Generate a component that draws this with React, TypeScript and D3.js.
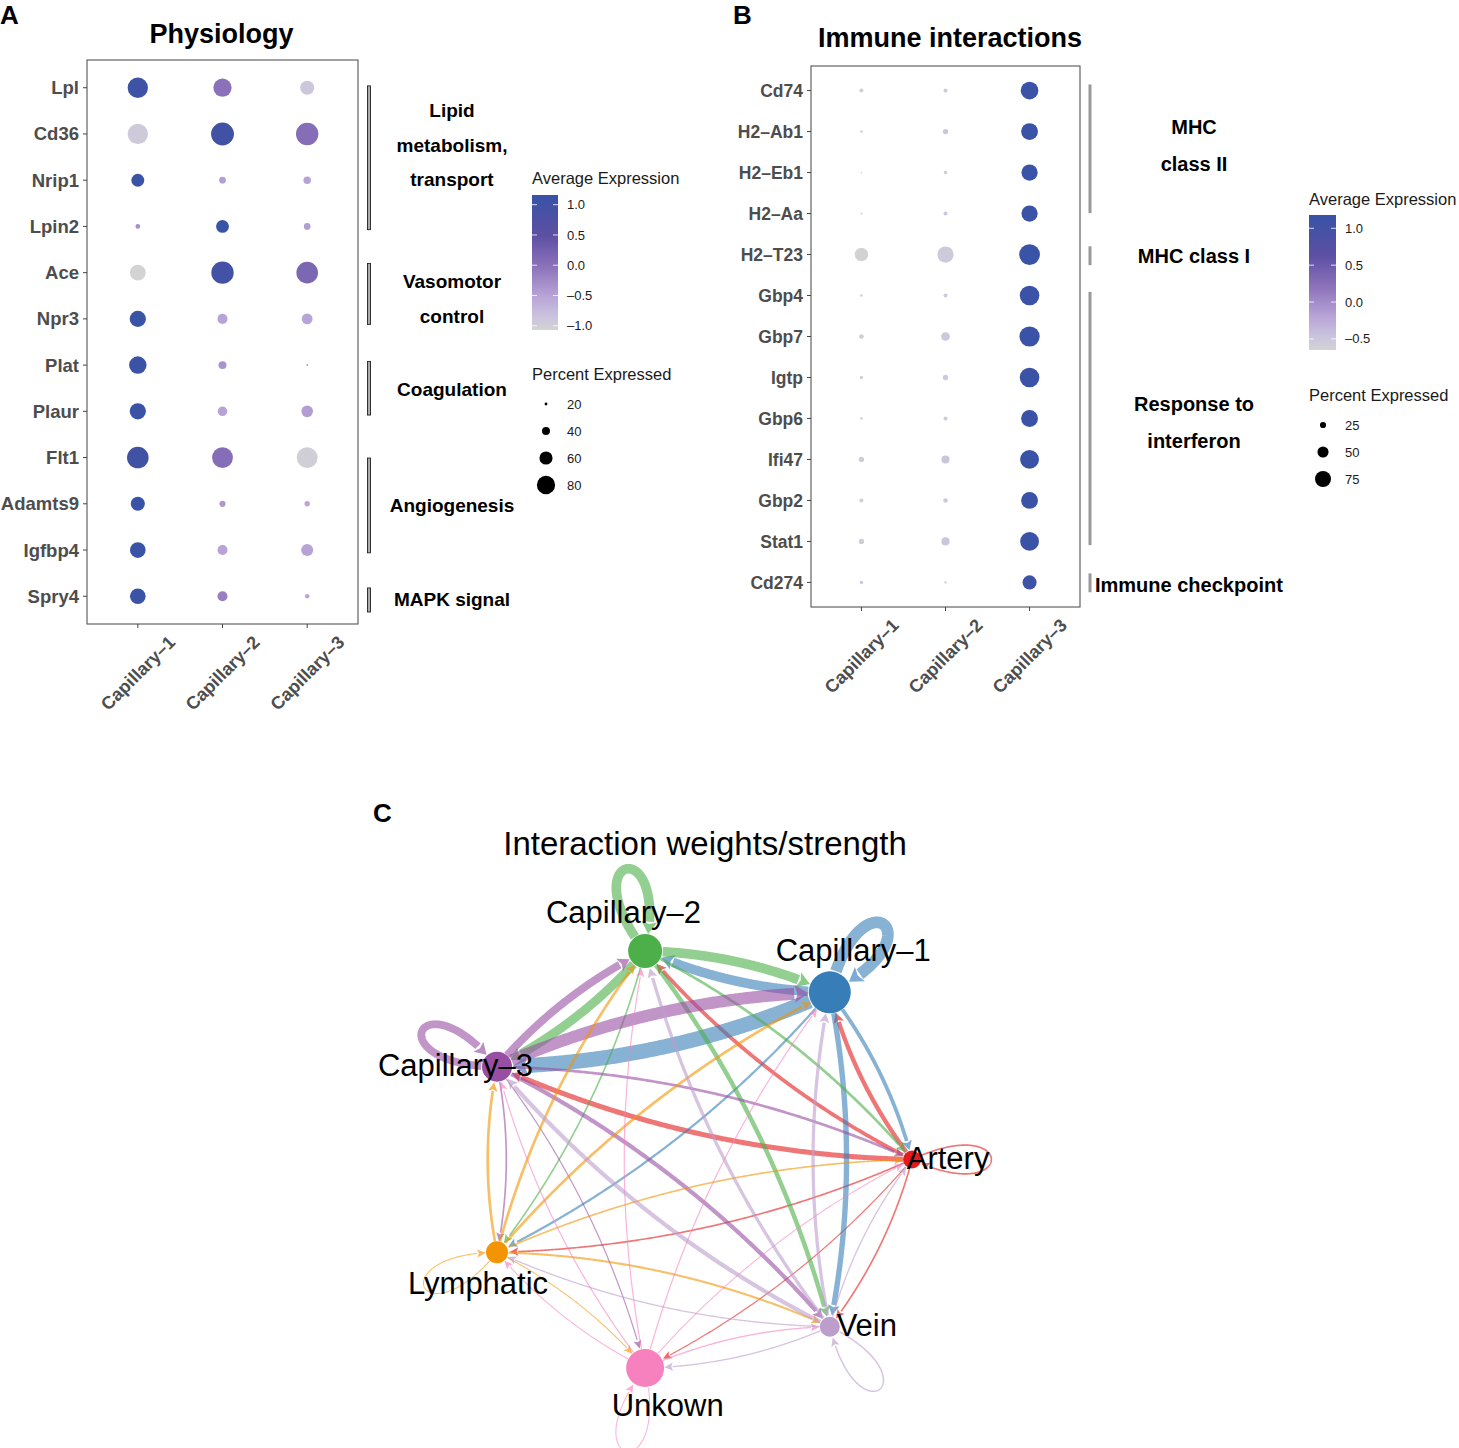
import React from 'react';
import * as d3 from 'd3';

// ---------------- DATA ----------------
const clusters = ['Capillary–1', 'Capillary–2', 'Capillary–3'];

const genesA = ['Lpl', 'Cd36', 'Nrip1', 'Lpin2', 'Ace', 'Npr3', 'Plat', 'Plaur', 'Flt1', 'Adamts9', 'Igfbp4', 'Spry4'];
const pctA = [
  [88, 80, 64], [88, 98, 96], [59, 35, 38], [27, 59, 35], [70, 96, 93], [72, 48, 51],
  [77, 40, 17], [72, 46, 54], [93, 90, 90], [64, 33, 30], [70, 48, 56], [70, 48, 27],
];
const exprA = [
  [1.05, 0.0, -0.9], [-0.95, 1.0, 0.05], [1.15, -0.45, -0.5], [-0.3, 1.15, -0.45],
  [-1.07, 0.95, 0.15], [1.15, -0.5, -0.5], [1.1, -0.35, -0.55], [1.1, -0.5, -0.45],
  [1.0, 0.05, -1.0], [1.15, -0.4, -0.55], [1.15, -0.5, -0.5], [1.1, -0.15, -0.55],
];
const groupsA = [
  { lines: ['Lipid', 'metabolism,', 'transport'], start: -0.04, end: 3.07, mid: 1.24 },
  { lines: ['Vasomotor', 'control'], start: 3.8, end: 5.12, mid: 4.57 },
  { lines: ['Coagulation'], start: 5.92, end: 7.08, mid: 6.52 },
  { lines: ['Angiogenesis'], start: 8.01, end: 10.06, mid: 9.03 },
  { lines: ['MAPK signal'], start: 10.82, end: 11.34, mid: 11.06 },
];
const colorTicksA = [1.0, 0.5, 0.0, -0.5, -1.0];
const colorRangeA = [-1.07, 1.16];
const sizeTicksA = [20, 40, 60, 80];

const genesB = ['Cd74', 'H2–Ab1', 'H2–Eb1', 'H2–Aa', 'H2–T23', 'Gbp4', 'Gbp7', 'Igtp', 'Gbp6', 'Ifi47', 'Gbp2', 'Stat1', 'Cd274'];
const pctB = [
  [14, 14, 83], [7, 21, 79], [2, 11, 76], [4, 14, 76], [62, 76, 99], [7, 14, 93], [17, 38, 96],
  [11, 21, 93], [7, 14, 79], [21, 35, 89], [14, 17, 79], [21, 35, 89], [11, 6, 65],
];
const exprB = [
  [-0.6, -0.55, 1.15], [-0.6, -0.5, 1.15], [-0.6, -0.55, 1.15], [-0.6, -0.5, 1.15],
  [-0.63, -0.55, 1.17], [-0.6, -0.55, 1.15], [-0.58, -0.52, 1.15], [-0.6, -0.52, 1.15],
  [-0.6, -0.55, 1.15], [-0.58, -0.5, 1.15], [-0.6, -0.52, 1.15], [-0.58, -0.5, 1.15],
  [-0.5, -0.6, 1.12],
];
const groupsB = [
  { lines: ['MHC', 'class II'], start: -0.15, end: 2.99, mid: 1.33, left: false },
  { lines: ['MHC class I'], start: 3.8, end: 4.26, mid: 4.04, left: false },
  { lines: ['Response to', 'interferon'], start: 4.91, end: 11.09, mid: 8.09, left: false },
  { lines: ['Immune checkpoint'], start: 11.78, end: 12.24, mid: 12.07, left: true },
];
const colorTicksB = [1.0, 0.5, 0.0, -0.5];
const colorRangeB = [-0.65, 1.18];
const sizeTicksB = [25, 50, 75];

const cellTypes = ['Artery', 'Capillary–1', 'Capillary–2', 'Capillary–3', 'Lymphatic', 'Unkown', 'Vein'];
const cellColors = ['#E41A1C', '#377EB8', '#4DAF4A', '#984EA3', '#F29403', '#F781BF', '#BC9DCC'];
const cellSize = [9, 21, 17, 15, 11, 19, 10];
// rows: source, cols: target (same order as cellTypes)
const weights = [
  [0.11, 0.29, 0.25, 0.34, 0.11, 0.08, 0.11],
  [0.25, 0.78, 0.64, 1.0, 0.15, 0, 0.36],
  [0.18, 0.64, 0.64, 0.6, 0.11, 0, 0.3],
  [0.18, 0.8, 0.52, 0.52, 0.11, 0.08, 0.28],
  [0.11, 0.18, 0.18, 0.18, 0.07, 0.07, 0.14],
  [0.07, 0.08, 0.08, 0.08, 0.07, 0.07, 0.09],
  [0.09, 0.22, 0.22, 0.28, 0.09, 0.09, 0.1],
];

// ---------------- HELPERS ----------------
const FONT = 'Liberation Sans, Arial, Helvetica, sans-serif';
const gradStops = ['#d3d3d3', '#cac3de', '#b8a4d6', '#9076bc', '#5d4fa3', '#3853a6'];
const gradFrac = [0, 0.1, 0.25, 0.45, 0.7, 1];
function makeColor(lo: number, hi: number) {
  return d3.scaleLinear<string>()
    .domain(gradFrac.map(f => lo + f * (hi - lo)))
    .range(gradStops)
    .interpolate(d3.interpolateRgb)
    .clamp(true);
}

type Box = { x0: number; x1: number; y0: number; y1: number };

function DotPanel(props: {
  id: string; genes: string[]; pct: number[][]; expr: number[][]; box: Box;
  rScale: d3.ScaleLinear<number, number>; colorRange: number[]; title: string; titleY: number; titleX: number;
  labelSize: number;
}) {
  const { genes, pct, expr, box, rScale, colorRange, title, titleY, titleX, labelSize } = props;
  const x = d3.scalePoint<string>().domain(clusters).range([box.x0, box.x1]).padding(0.6);
  const y = d3.scalePoint<string>().domain(genes).range([box.y0, box.y1]).padding(0.6);
  const color = makeColor(colorRange[0], colorRange[1]);
  return (
    <g>
      <text x={titleX} y={titleY} textAnchor="middle" fontFamily={FONT} fontWeight="bold" fontSize={27} fill="#000">{title}</text>
      <rect x={box.x0} y={box.y0} width={box.x1 - box.x0} height={box.y1 - box.y0} fill="#fff" stroke="#555" strokeWidth={1.1} />
      {genes.map((g, i) => (
        <g key={g}>
          <line x1={box.x0 - 4} x2={box.x0} y1={y(g)} y2={y(g)} stroke="#444" strokeWidth={1} />
          <text x={box.x0 - 8} y={y(g)} dy="0.35em" textAnchor="end" fontFamily={FONT} fontWeight="bold" fontSize={labelSize} fill="#4d4d4d">{g}</text>
          {clusters.map((c, j) => (
            <circle key={c} cx={x(c)} cy={y(g)} r={Math.max(0.4, rScale(pct[i][j]))} fill={color(expr[i][j])} />
          ))}
        </g>
      ))}
      {clusters.map(c => (
        <g key={c}>
          <line x1={x(c)} x2={x(c)} y1={box.y1} y2={box.y1 + 4} stroke="#444" strokeWidth={1} />
          <text transform={`translate(${x(c)},${box.y1 + 49}) rotate(-45)`} textAnchor="middle" dy="0.35em"
            fontFamily={FONT} fontWeight="bold" fontSize={18} fill="#4d4d4d">{c}</text>
        </g>
      ))}
    </g>
  );
}

function Legend(props: {
  id: string; x: number; titleY: number; bar: { y0: number; y1: number; w: number }; colorRange: number[];
  ticks: number[]; sizeTitleY: number; sizeTicks: number[]; sizeY0: number; sizeStep: number;
  rScale: d3.ScaleLinear<number, number>;
}) {
  const { id, x, titleY, bar, colorRange, ticks, sizeTitleY, sizeTicks, sizeY0, sizeStep, rScale } = props;
  const color = makeColor(colorRange[0], colorRange[1]);
  const yb = d3.scaleLinear().domain(colorRange).range([bar.y1, bar.y0]);
  const stops = d3.range(0, 1.0001, 0.05);
  const dotX = x + 14;
  return (
    <g fontFamily={FONT}>
      <defs>
        <linearGradient id={id} x1="0" y1="1" x2="0" y2="0">
          {stops.map(s => (
            <stop key={s} offset={s} stopColor={color(colorRange[0] + s * (colorRange[1] - colorRange[0]))} />
          ))}
        </linearGradient>
      </defs>
      <text x={x} y={titleY} fontSize={16.5} fill="#1a1a1a">Average Expression</text>
      <rect x={x} y={bar.y0} width={bar.w} height={bar.y1 - bar.y0} fill={`url(#${id})`} />
      {ticks.map(t => (
        <g key={t}>
          <line x1={x} x2={x + 5} y1={yb(t)} y2={yb(t)} stroke="#fff" strokeWidth={1} strokeOpacity={0.8} />
          <line x1={x + bar.w - 5} x2={x + bar.w} y1={yb(t)} y2={yb(t)} stroke="#fff" strokeWidth={1} strokeOpacity={0.8} />
          <text x={x + bar.w + 9} y={yb(t)} dy="0.35em" fontSize={13} fill="#1a1a1a">{t < 0 ? '–' + Math.abs(t).toFixed(1) : t.toFixed(1)}</text>
        </g>
      ))}
      <text x={x} y={sizeTitleY} fontSize={16.5} fill="#1a1a1a">Percent Expressed</text>
      {sizeTicks.map((s, i) => (
        <g key={s}>
          <circle cx={dotX} cy={sizeY0 + i * sizeStep} r={rScale(s)} fill="#000" />
          <text x={x + bar.w + 9} y={sizeY0 + i * sizeStep} dy="0.35em" fontSize={13} fill="#1a1a1a">{s}</text>
        </g>
      ))}
    </g>
  );
}

type Pt = [number, number];
const dist = (a: Pt, b: Pt) => Math.hypot(a[0] - b[0], a[1] - b[1]);

function trimmed(pts: Pt[], s: Pt, rs: number, t: Pt, rt: number, w: number) {
  let i0 = pts.findIndex(p => dist(p, s) >= rs);
  if (i0 < 0) i0 = 0;
  let i1 = pts.length - 1;
  while (i1 > i0 && dist(pts[i1], t) < rt) i1--;
  const tip = pts[i1];
  const aLen = 8 + 0.45 * w;
  const hw = 3.5 + 0.45 * w;
  let k = i1;
  while (k > i0 && dist(pts[k], tip) < aLen) k--;
  const base = pts[k];
  const dx = tip[0] - base[0], dy = tip[1] - base[1];
  const L = Math.hypot(dx, dy) || 1;
  const ux = dx / L, uy = dy / L;
  const line = pts.slice(i0, k + 1);
  line.push([base[0] + ux * 0.5, base[1] + uy * 0.5]);
  const b2: Pt = [tip[0] - ux * aLen, tip[1] - uy * aLen];
  const notch: Pt = [tip[0] - ux * aLen * 0.8, tip[1] - uy * aLen * 0.8];
  const arrow: Pt[] = [tip, [b2[0] - uy * hw, b2[1] + ux * hw], notch, [b2[0] + uy * hw, b2[1] - ux * hw]];
  return { line, arrow };
}

function Network() {
  const n = cellTypes.length;
  const layout = cellTypes.map((_, i) => [Math.cos((2 * Math.PI * i) / n), Math.sin((2 * Math.PI * i) / n)]);
  const xs = d3.scaleLinear().domain(d3.extent(layout, d => d[0]) as [number, number]).range([497, 912]);
  const ys = d3.scaleLinear().domain(d3.extent(layout, d => d[1]) as [number, number]).range([1368, 951]);
  const rScale = d3.scaleLinear().domain([0, d3.max(cellSize) as number]).range([0, 21]);
  const maxW = d3.max(weights.flat()) as number;
  const wScale = d3.scaleLinear().domain([0, maxW]).range([0, 15]);
  const nodes = cellTypes.map((name, i) => ({
    name, color: cellColors[i], x: xs(layout[i][0]), y: ys(layout[i][1]), r: rScale(cellSize[i]),
    ang: -(2 * Math.PI * i) / n,
    labDeg: -(i / (n - 1)) * 2 * Math.PI,
  }));
  const lineGen = d3.line<Pt>().curve(d3.curveLinear);
  const edges: { key: string; color: string; w: number; line: Pt[]; arrow: Pt[] }[] = [];
  const N = 240;
  weights.forEach((row, i) => {
    row.forEach((wt, j) => {
      if (wt <= 0) return;
      const s = nodes[i], t = nodes[j];
      const w = wScale(wt);
      const S: Pt = [s.x, s.y], T: Pt = [t.x, t.y];
      const pts: Pt[] = [];
      if (i === j) {
        const L = 74 + 0.6 * s.r;
        const a = 0.44;
        const D = L / (0.75 * Math.cos(a));
        const P1: Pt = [s.x + D * Math.cos(s.ang - a), s.y + D * Math.sin(s.ang - a)];
        const P2: Pt = [s.x + D * Math.cos(s.ang + a), s.y + D * Math.sin(s.ang + a)];
        for (let k = 0; k <= N; k++) {
          const tt = k / N, u = 1 - tt;
          pts.push([
            u * u * u * s.x + 3 * u * u * tt * P1[0] + 3 * u * tt * tt * P2[0] + tt * tt * tt * s.x,
            u * u * u * s.y + 3 * u * u * tt * P1[1] + 3 * u * tt * tt * P2[1] + tt * tt * tt * s.y,
          ]);
        }
      } else {
        const curved = 0.2;
        const dx = t.x - s.x, dy = t.y - s.y;
        const C: Pt = [(s.x + t.x) / 2 + (curved / 2) * dy, (s.y + t.y) / 2 - (curved / 2) * dx];
        for (let k = 0; k <= N; k++) {
          const tt = k / N, u = 1 - tt;
          pts.push([
            u * u * s.x + 2 * u * tt * C[0] + tt * tt * t.x,
            u * u * s.y + 2 * u * tt * C[1] + tt * tt * t.y,
          ]);
        }
      }
      const { line, arrow } = trimmed(pts, S, s.r, T, t.r, w);
      edges.push({ key: `${i}-${j}`, color: s.color, w, line, arrow });
    });
  });
  return (
    <g>
      <text x={373} y={822} fontFamily={FONT} fontWeight="bold" fontSize={26}>C</text>
      <text x={705} y={855} textAnchor="middle" fontFamily={FONT} fontSize={33} fill="#000">Interaction weights/strength</text>
      {edges.map(e => (
        <g key={e.key}>
          <path d={lineGen(e.line) || ''} fill="none" stroke={e.color} strokeOpacity={0.6} strokeWidth={e.w} strokeLinecap="butt" strokeLinejoin="round" />
          <path d={'M' + e.arrow.map(p => p.join(',')).join('L') + 'Z'} fill={e.color} fillOpacity={0.65} />
        </g>
      ))}
      {nodes.map(nd => (
        <circle key={nd.name} cx={nd.x} cy={nd.y} r={nd.r} fill={nd.color} />
      ))}
      {nodes.map(nd => {
        const d = 28 + 0.9 * nd.r;
        const lx = nd.x + d * Math.cos(nd.labDeg);
        const ly = nd.y + d * Math.sin(nd.labDeg);
        return (
          <text key={nd.name} x={lx} y={ly} dy="0.3em" textAnchor="middle" fontFamily={FONT} fontSize={31} fill="#000">{nd.name}</text>
        );
      })}
    </g>
  );
}

function Brackets(props: {
  groups: { lines: string[]; start: number; end: number; mid: number; left?: boolean }[];
  genes: string[]; box: Box; lineX: number; labelX: number; spacing: number; fontSize: number; style: 'A' | 'B';
}) {
  const { groups, genes, box, lineX, labelX, spacing, fontSize, style } = props;
  const yp = d3.scalePoint<string>().domain(genes).range([box.y0, box.y1]).padding(0.6);
  const yi = d3.scaleLinear().domain([0, genes.length - 1]).range([yp(genes[0]) as number, yp(genes[genes.length - 1]) as number]);
  return (
    <g fontFamily={FONT} fontWeight="bold">
      {groups.map(g => {
        const y0 = yi(g.start), y1 = yi(g.end), ym = yi(g.mid);
        const nL = g.lines.length;
        return (
          <g key={g.lines.join(' ')}>
            {style === 'A' ? (
              <rect x={lineX - 1.5} y={y0} width={3} height={y1 - y0} fill="#aaa" stroke="#222" strokeWidth={0.9} />
            ) : (
              <line x1={lineX} x2={lineX} y1={y0} y2={y1} stroke="#999" strokeWidth={3} />
            )}
            {g.lines.map((l, k) => (
              <text key={l} x={g.left ? lineX + 5 : labelX} y={ym + (k - (nL - 1) / 2) * spacing} dy="0.35em"
                textAnchor={g.left ? 'start' : 'middle'} fontSize={fontSize} fill="#000">{l}</text>
            ))}
          </g>
        );
      })}
    </g>
  );
}

export default function App() {
  const boxA: Box = { x0: 87, x1: 358, y0: 60, y1: 624 };
  const boxB: Box = { x0: 811, x1: 1080, y0: 66, y1: 607 };
  const rA = d3.scaleLinear().domain([9, 100]).range([0, 11.7]).clamp(true);
  const rB = d3.scaleLinear().domain([0, 100]).range([0.6, 10.5]);
  return (
    <div style={{ position: 'absolute', left: 0, top: 0 }}>
      <svg width={1459} height={1448} viewBox="0 0 1459 1448" style={{ display: 'block', background: '#fff' }}>
        <rect width={1459} height={1448} fill="#fff" />
        <text x={0} y={24} fontFamily={FONT} fontWeight="bold" fontSize={26}>A</text>
        <text x={733} y={24} fontFamily={FONT} fontWeight="bold" fontSize={26}>B</text>
        <DotPanel id="A" genes={genesA} pct={pctA} expr={exprA} box={boxA} rScale={rA} colorRange={colorRangeA}
          title="Physiology" titleY={43} titleX={221.5} labelSize={18.5} />
        <Brackets groups={groupsA} genes={genesA} box={boxA} lineX={369} labelX={452} spacing={34.5} fontSize={19} style="A" />
        <Legend id="gradA" x={532} titleY={184} bar={{ y0: 195, y1: 330, w: 26 }} colorRange={colorRangeA}
          ticks={colorTicksA} sizeTitleY={380} sizeTicks={sizeTicksA} sizeY0={404} sizeStep={27} rScale={rA} />
        <DotPanel id="B" genes={genesB} pct={pctB} expr={exprB} box={boxB} rScale={rB} colorRange={colorRangeB}
          title="Immune interactions" titleY={47} titleX={950} labelSize={17.5} />
        <Brackets groups={groupsB} genes={genesB} box={boxB} lineX={1090} labelX={1194} spacing={37} fontSize={20} style="B" />
        <Legend id="gradB" x={1309} titleY={205} bar={{ y0: 215, y1: 350, w: 27 }} colorRange={colorRangeB}
          ticks={colorTicksB} sizeTitleY={401} sizeTicks={sizeTicksB} sizeY0={425} sizeStep={27} rScale={rB} />
        <Network />
      </svg>
    </div>
  );
}
